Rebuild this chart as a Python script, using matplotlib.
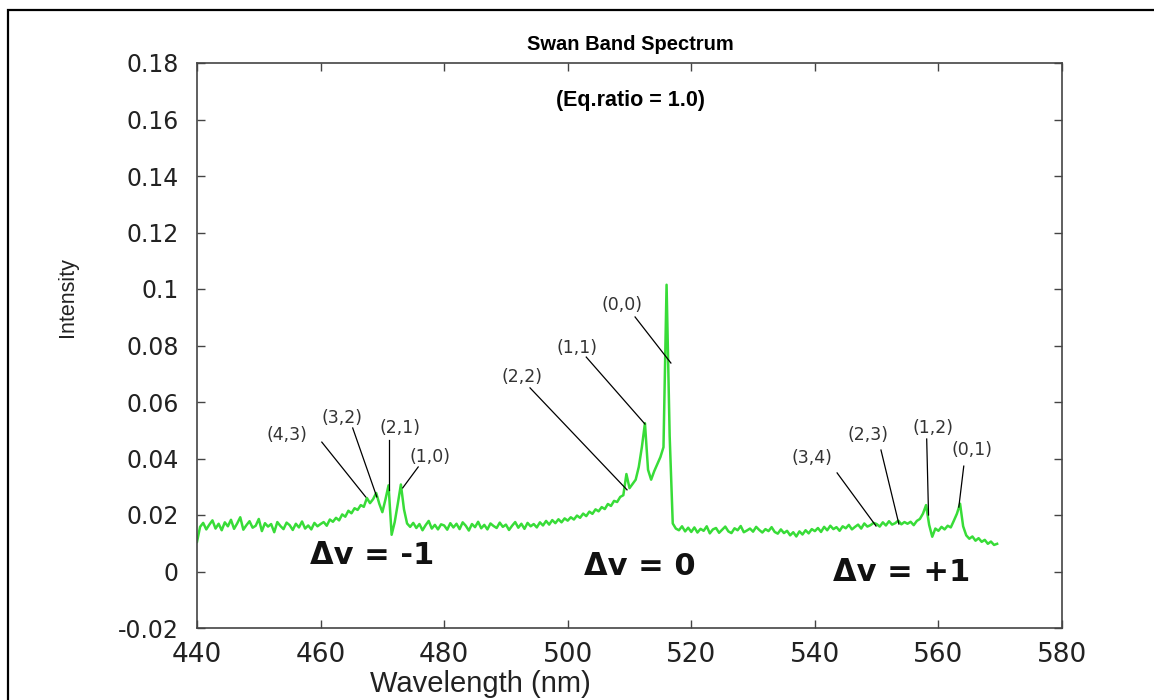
import numpy as np
import matplotlib
matplotlib.use("Agg")
import matplotlib.pyplot as plt
from matplotlib.patches import Rectangle

# wavelength grid of the spectrometer (nm), 0.5 nm steps
wl_start = 440.0
wl_step = 0.5

# intensity, in units of 1e-3
seg_440 = [10.5, 15.8, 17.2, 14.9, 16.6, 18.1, 15.2, 16.9, 14.6, 17.4,
           16.0, 18.3, 15.1, 17.0, 19.2, 14.8, 16.4, 17.8, 15.5, 16.2,
           18.6, 14.3, 17.1, 15.9, 16.8, 13.9, 17.5, 16.1, 15.0, 17.3,
           16.4, 14.7, 16.9, 15.6, 17.7, 15.2, 16.3, 14.9, 17.2, 16.0]
seg_460 = [16.8, 17.5, 16.2, 18.4, 17.6, 19.0, 18.1, 20.2, 19.4, 21.5,
           20.6, 22.4, 21.8, 23.5, 22.9, 26.0, 24.2, 25.6, 27.8, 24.0,
           21.0, 25.5, 30.5, 13.0, 17.5, 24.0, 30.8, 22.0, 17.0, 15.8,
           17.2, 15.4, 16.8, 14.6, 16.4, 17.9, 15.2, 16.5, 14.9, 16.7]
seg_480 = [16.3, 14.8, 17.1, 15.6, 16.9, 15.0, 17.4, 16.2, 14.5, 16.8,
           15.7, 17.6, 15.3, 16.5, 14.9, 17.0, 16.1, 15.4, 17.3, 15.8,
           16.6, 14.7, 16.2, 17.5, 15.5, 16.9, 15.1, 17.2, 16.0, 16.8,
           15.6, 17.4, 16.3, 17.9, 16.6, 18.2, 17.1, 18.5, 17.4, 18.8]
seg_500 = [18.0, 19.2, 18.4, 19.8, 19.0, 20.5, 19.6, 21.2, 20.4, 22.0,
           21.3, 22.8, 22.1, 23.9, 23.2, 25.0, 24.6, 26.4, 27.0, 34.5,
           29.5, 31.0, 32.5, 37.0, 44.0, 52.5, 36.0, 32.5, 35.5, 38.0,
           40.5, 44.0, 101.5, 48.0, 17.0, 15.2, 14.6, 16.0, 14.2, 15.5]
seg_520 = [14.0, 15.6, 13.8, 15.1, 14.4, 16.0, 13.5, 14.9, 15.4, 13.7,
           14.8, 15.9, 14.2, 13.6, 15.3, 14.6, 16.1, 13.9, 14.5, 15.2,
           14.1, 15.8, 14.7, 13.8, 15.0, 14.3, 15.7, 14.0, 13.4, 14.9,
           13.6, 14.4, 12.8, 13.9, 12.4, 14.2, 13.1, 14.6, 13.5, 15.0]
seg_540 = [14.3, 15.4, 14.0, 15.8, 14.6, 16.2, 15.0, 15.7, 14.4, 16.0,
           15.3, 16.5, 14.9, 15.8, 16.6, 15.2, 17.0, 15.9, 16.4, 17.2,
           16.8, 15.9, 17.4, 16.3, 17.8, 16.6, 17.1, 18.0, 16.7, 17.5,
           16.9, 17.6, 16.4, 17.9, 18.6, 20.5, 23.5, 16.5, 12.3, 15.2]
seg_560 = [14.4, 15.8, 14.9, 16.2, 15.6, 18.0, 20.5, 24.0, 16.0, 12.8,
           11.6, 12.4, 10.9, 11.8, 10.5, 11.2, 9.8, 10.6, 9.4, 9.8]

# band head labels
band_labels = ["(4,3)", "(3,2)", "(2,1)", "(1,0)", "(2,2)", "(1,1)",
               "(0,0)", "(3,4)", "(2,3)", "(1,2)", "(0,1)"]
# where each label sits, and its leader line (start -> tip)
label_pos = [(454.6, 0.0483), (463.5, 0.0543), (472.8, 0.0508), (477.7, 0.0405),
             (492.6, 0.0690), (501.5, 0.0790), (508.8, 0.0943),
             (539.5, 0.0402), (548.6, 0.0483), (559.1, 0.0508), (565.4, 0.0430)]
line_start = [(460.2, 0.0458), (465.2, 0.0508), (471.1, 0.0465), (475.8, 0.0370),
              (493.9, 0.0650), (503.0, 0.0759), (510.9, 0.0901),
              (543.6, 0.0349), (550.7, 0.0430), (558.1, 0.0469), (564.1, 0.0373)]
line_tip = [(467.3, 0.0264), (469.1, 0.0264), (471.1, 0.0288), (473.3, 0.0296),
            (509.6, 0.0289), (512.5, 0.0522), (516.7, 0.0738),
            (549.9, 0.0161), (553.6, 0.0168), (558.4, 0.0200), (563.3, 0.0228)]

seq_labels = ["\u0394v = -1", "\u0394v = 0", "\u0394v = +1"]
seq_pos = [(468.3, 0.0055), (511.7, 0.0019), (554.1, -0.0002)]

intensity = np.array(seg_440 + seg_460 + seg_480 + seg_500 + seg_520 + seg_540 + seg_560) / 1000.0
wavelength = wl_start + wl_step * np.arange(len(intensity))

fig = plt.figure(figsize=(11.54, 7.0), dpi=100)
ax = fig.add_axes([197 / 1154, 72 / 700, 865 / 1154, 565 / 700])

ax.plot(wavelength, intensity, color="#38dc38", lw=1.8)

for lab, p, s, t in zip(band_labels, label_pos, line_start, line_tip):
    ax.plot([s[0], t[0]], [s[1], t[1]], color="black", lw=0.9)
    ax.text(p[0], p[1], lab, ha="center", va="center", fontsize=12.5,
            family="DejaVu Sans", color="#333333")

for lab, p in zip(seq_labels, seq_pos):
    ax.text(p[0], p[1], lab, ha="center", va="center", fontsize=22,
            family="DejaVu Sans", fontweight="bold", color="#111111")

ax.text(510.1, 0.1669, "(Eq.ratio = 1.0)", ha="center", va="center",
        fontsize=15.5, fontweight="bold", family="Liberation Sans")

ax.set_xlim(440, 580)
ax.set_ylim(-0.02, 0.18)
ax.set_xticks([440, 460, 480, 500, 520, 540, 560, 580])
ax.set_yticks([-0.02, 0, 0.02, 0.04, 0.06, 0.08, 0.1, 0.12, 0.14, 0.16, 0.18])
ax.set_yticklabels(["-0.02", "0", "0.02", "0.04", "0.06", "0.08", "0.1",
                    "0.12", "0.14", "0.16", "0.18"])
ax.tick_params(direction="in", length=6, width=1, color="#444444",
               top=True, right=True)
ax.tick_params(axis="x", pad=10)
ax.tick_params(axis="y", pad=13)
for lbl in ax.get_xticklabels():
    lbl.set_family("DejaVu Sans")
    lbl.set_fontsize(19)
    lbl.set_color("#222222")
for lbl in ax.get_yticklabels():
    lbl.set_family("DejaVu Sans")
    lbl.set_fontsize(17)
    lbl.set_color("#222222")
for sp in ax.spines.values():
    sp.set_color("#444444")
    sp.set_linewidth(1.2)

fig.text(630 / 1154, 1 - 45 / 700, "Swan Band Spectrum", ha="center", va="center",
         fontsize=14.5, fontweight="bold", family="Liberation Sans")
fig.text(480 / 1154, 1 - 684 / 700, "Wavelength (nm)", ha="center", va="center",
         fontsize=21, family="Liberation Sans", color="#222222")
fig.text(68 / 1154, 1 - 297 / 700, "Intensity", ha="center", va="center",
         rotation=90, fontsize=15.5, family="Liberation Sans", color="#222222")

fig.patches.append(Rectangle((8 / 1154, -0.05), 1.2, 1 - 10 / 700 + 0.05,
                             transform=fig.transFigure, fill=False,
                             edgecolor="black", lw=1.6))

fig.savefig("out.png", dpi=100)
